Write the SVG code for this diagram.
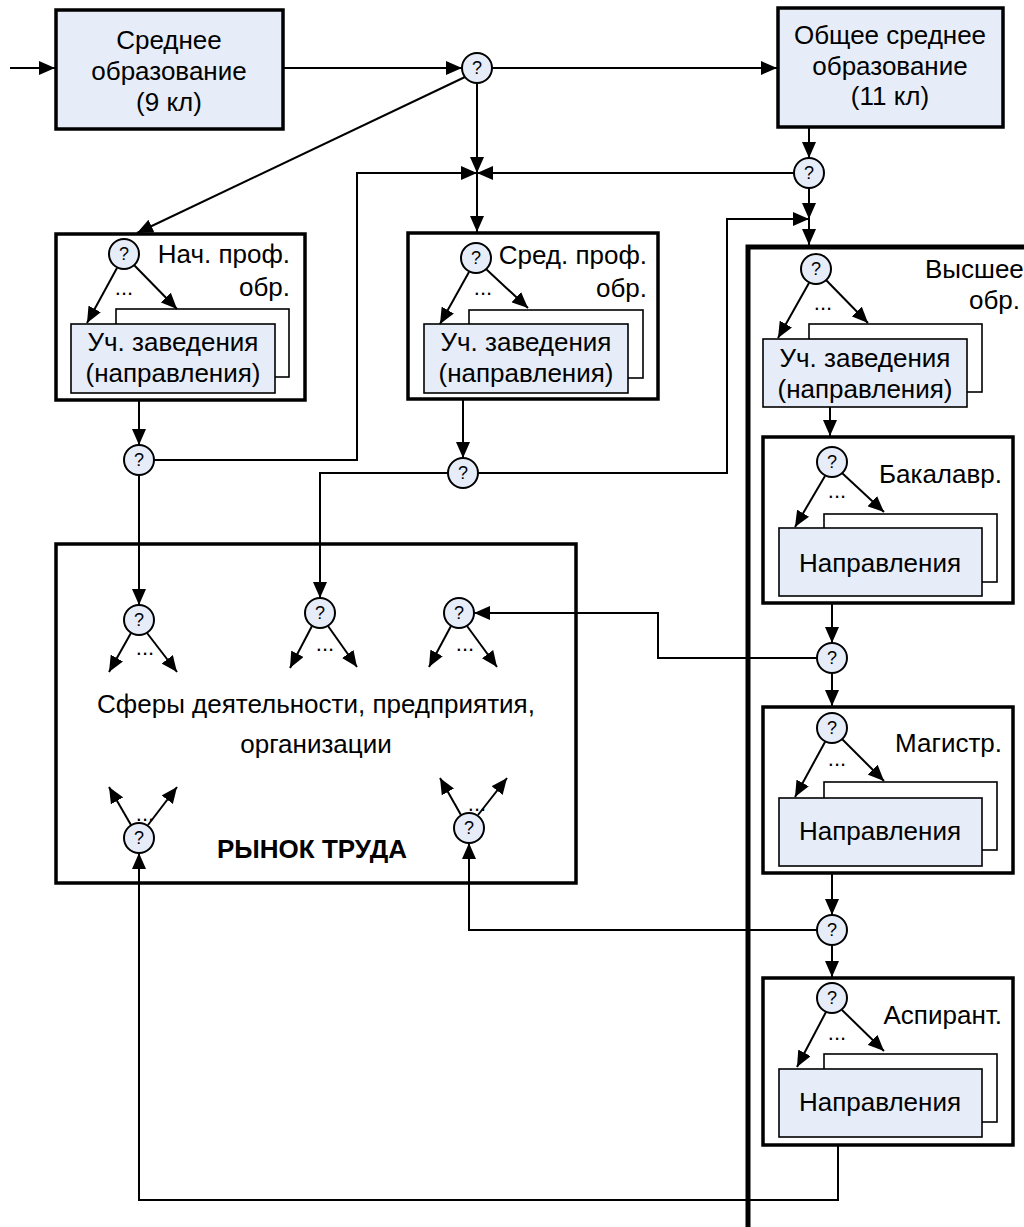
<svg xmlns="http://www.w3.org/2000/svg" width="1024" height="1227" viewBox="0 0 1024 1227">
<defs>
<marker id="ah" markerUnits="userSpaceOnUse" markerWidth="16" markerHeight="14" refX="16" refY="7" orient="auto">
<path d="M0,0 L16,7 L0,14 z" fill="#000"/>
</marker>
<style>
text{font-family:"Liberation Sans",Arial,sans-serif;fill:#000}
.t{font-size:26px}
.m{text-anchor:middle}
.e{text-anchor:end}
.q{font-size:18px;text-anchor:middle}
.d{font-size:22px;text-anchor:middle}
.b{font-weight:bold}
.top{fill:#e6edf8;stroke:#000;stroke-width:3.5}
.box{fill:#fff;stroke:#000;stroke-width:3.5}
.back{fill:#fff;stroke:#000;stroke-width:1.6}
.front{fill:#e6edf8;stroke:#000;stroke-width:1.6}
.c{fill:#e6edf8;stroke:#000;stroke-width:2}
.l{fill:none;stroke:#000;stroke-width:2}
.a{fill:none;stroke:#000;stroke-width:2;marker-end:url(#ah)}
</style>
</defs>
<rect width="1024" height="1227" fill="#fff"/>

<g id="higher-frame">
<path d="M748,1227 V247 H1030" fill="none" stroke="#000" stroke-width="5"/>
<text class="t" x="925" y="278">Высшее</text>
<text class="t e" x="1020" y="309">обр.</text>
</g>

<g id="school9">
<rect class="top" x="56" y="10" width="227" height="119"/>
<text class="t m" x="169" y="49">Среднее</text>
<text class="t m" x="169" y="80">образование</text>
<text class="t m" x="169" y="111">(9 кл)</text>
</g>

<g id="school11">
<rect class="top" x="778" y="8" width="225" height="119"/>
<text class="t m" x="890" y="44">Общее среднее</text>
<text class="t m" x="890" y="75">образование</text>
<text class="t m" x="890" y="105">(11 кл)</text>
</g>

<g id="q-top"><circle class="c" cx="477" cy="68" r="15"/><text class="q" x="477" y="74">?</text></g>
<g id="q-11"><circle class="c" cx="809" cy="173" r="15"/><text class="q" x="809" y="179">?</text></g>

<g id="nach">
<rect class="box" x="56" y="234" width="249" height="166"/>
<circle class="c" cx="124" cy="254" r="15"/><text class="q" x="124" y="260">?</text>
<text class="t e" x="290" y="263">Нач. проф.</text>
<text class="t e" x="290" y="296">обр.</text>
<text class="d" x="124" y="295">...</text>
<rect class="back" x="116" y="309" width="173" height="68"/>
<rect class="front" x="71" y="324" width="204" height="69"/>
<text class="t m" x="173" y="351">Уч. заведения</text>
<text class="t m" x="173" y="382">(направления)</text>
<path class="a" d="M117,268 L87,323"/>
<path class="a" d="M134,265 L177,309"/>
</g>

<g id="sred">
<rect class="box" x="408" y="233" width="250" height="166"/>
<circle class="c" cx="476" cy="258" r="15"/><text class="q" x="476" y="264">?</text>
<text class="t e" x="647" y="264">Сред. проф.</text>
<text class="t e" x="647" y="297">обр.</text>
<text class="d" x="483" y="295">...</text>
<rect class="back" x="469" y="310" width="174" height="68"/>
<rect class="front" x="424" y="324" width="204" height="69"/>
<text class="t m" x="526" y="351">Уч. заведения</text>
<text class="t m" x="526" y="382">(направления)</text>
<path class="a" d="M469,272 L440,324"/>
<path class="a" d="M486,269 L528,308"/>
</g>

<g id="vuz">
<circle class="c" cx="816" cy="269" r="15"/><text class="q" x="816" y="275">?</text>
<text class="d" x="823" y="310">...</text>
<rect class="back" x="809" y="324" width="173" height="68"/>
<rect class="front" x="763" y="339" width="204" height="68"/>
<text class="t m" x="865" y="367">Уч. заведения</text>
<text class="t m" x="865" y="398">(направления)</text>
<path class="a" d="M809,283 L778,338"/>
<path class="a" d="M826,280 L868,323"/>
</g>

<g id="bakalavr">
<rect class="box" x="763" y="437" width="250" height="166"/>
<circle class="c" cx="832" cy="462" r="15"/><text class="q" x="832" y="468">?</text>
<text class="t e" x="1002" y="483">Бакалавр.</text>
<text class="d" x="837" y="498">...</text>
<rect class="back" x="824" y="514" width="173" height="68"/>
<rect class="front" x="779" y="528" width="203" height="68"/>
<text class="t m" x="880" y="572">Направления</text>
<path class="a" d="M825,476 L795,527"/>
<path class="a" d="M842,473 L884,512"/>
</g>

<g id="magistr">
<rect class="box" x="763" y="707" width="250" height="166"/>
<circle class="c" cx="832" cy="728" r="15"/><text class="q" x="832" y="734">?</text>
<text class="t e" x="1002" y="752">Магистр.</text>
<text class="d" x="837" y="766">...</text>
<rect class="back" x="824" y="782" width="173" height="68"/>
<rect class="front" x="779" y="798" width="203" height="68"/>
<text class="t m" x="880" y="840">Направления</text>
<path class="a" d="M825,742 L795,797"/>
<path class="a" d="M842,739 L884,781"/>
</g>

<g id="aspirant">
<rect class="box" x="763" y="978" width="250" height="167"/>
<circle class="c" cx="832" cy="998" r="15"/><text class="q" x="832" y="1004">?</text>
<text class="t e" x="1002" y="1024">Аспирант.</text>
<text class="d" x="837" y="1040">...</text>
<rect class="back" x="824" y="1054" width="173" height="68"/>
<rect class="front" x="779" y="1069" width="203" height="68"/>
<text class="t m" x="880" y="1111">Направления</text>
<path class="a" d="M826,1012 L797,1067"/>
<path class="a" d="M842,1010 L884,1051"/>
</g>

<g id="q-nach"><circle class="c" cx="139" cy="460" r="15"/><text class="q" x="139" y="466">?</text></g>
<g id="q-sred"><circle class="c" cx="463" cy="473" r="15"/><text class="q" x="463" y="479">?</text></g>
<g id="q-bak"><circle class="c" cx="832" cy="658" r="15"/><text class="q" x="832" y="664">?</text></g>
<g id="q-mag"><circle class="c" cx="832" cy="930" r="15"/><text class="q" x="832" y="936">?</text></g>

<g id="market">
<rect class="box" x="56" y="544" width="520" height="339"/>
<text class="t m" x="316" y="713">Сферы деятельности, предприятия,</text>
<text class="t m" x="316" y="753">организации</text>
<text class="t m b" x="312" y="858">РЫНОК ТРУДА</text>
<circle class="c" cx="139" cy="620" r="15"/><text class="q" x="139" y="626">?</text>
<path class="a" d="M131,633 L109,672"/><path class="a" d="M147,633 L177,672"/>
<text class="d" x="145" y="655">...</text>
<circle class="c" cx="320" cy="613" r="15"/><text class="q" x="320" y="619">?</text>
<path class="a" d="M312,626 L290,668"/><path class="a" d="M328,626 L357,667"/>
<text class="d" x="325" y="651">...</text>
<circle class="c" cx="459" cy="613" r="15"/><text class="q" x="459" y="619">?</text>
<path class="a" d="M451,626 L429,667"/><path class="a" d="M467,626 L497,667"/>
<text class="d" x="465" y="651">...</text>
<circle class="c" cx="139" cy="838" r="15"/><text class="q" x="139" y="844">?</text>
<path class="a" d="M131,825 L109,787"/><path class="a" d="M148,825 L177,787"/>
<text class="d" x="145" y="821">...</text>
<circle class="c" cx="469" cy="828" r="15"/><text class="q" x="469" y="834">?</text>
<path class="a" d="M461,815 L440,778"/><path class="a" d="M478,815 L507,778"/>
<text class="d" x="477" y="811">...</text>
</g>

<g id="connectors">
<path class="a" d="M10,68 H55"/>
<path class="a" d="M283,68 H462"/>
<path class="a" d="M492,68 H777"/>
<path class="a" d="M477,83 V173"/>
<path class="a" d="M465,77 L137,233"/>
<path class="a" d="M809,127 V158"/>
<path class="a" d="M794,173 H477"/>
<path class="a" d="M154,460 H357 V173 H477"/>
<path class="a" d="M477,173 V232"/>
<path class="a" d="M809,188 V219"/>
<path class="a" d="M478,473 H727 V219 H809"/>
<path class="a" d="M809,219 V245"/>
<path class="a" d="M139,400 V445"/>
<path class="a" d="M463,399 V458"/>
<path class="a" d="M139,475 V605"/>
<path class="a" d="M448,473 H320 V598"/>
<path class="a" d="M830,407 V436"/>
<path class="a" d="M832,603 V643"/>
<path class="a" d="M817,658 H658 V613 H474"/>
<path class="a" d="M832,673 V706"/>
<path class="a" d="M832,873 V915"/>
<path class="a" d="M817,930 H469 V843"/>
<path class="a" d="M832,945 V977"/>
<path class="a" d="M838,1145 V1200 H139 V853"/>
</g>
</svg>
